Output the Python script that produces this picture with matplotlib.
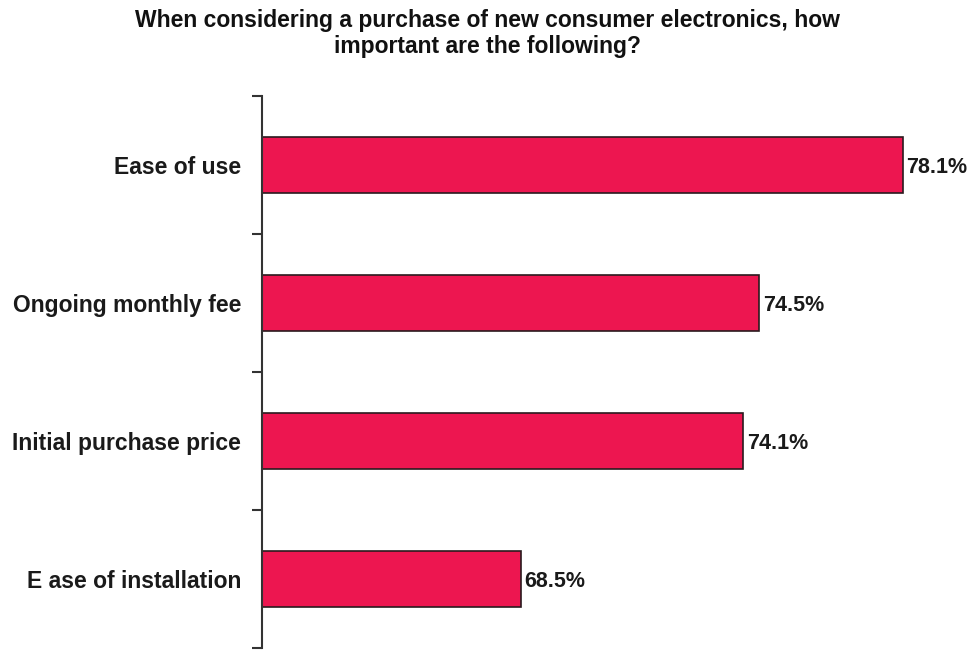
import matplotlib
matplotlib.use("Agg")
import matplotlib.pyplot as plt

categories = ["Ease of use", "Ongoing monthly fee", "Initial purchase price", "E ase of installation"]
values = [78.1, 74.5, 74.1, 68.5]
value_labels = ["78.1%", "74.5%", "74.1%", "68.5%"]
title = "When considering a purchase of new consumer electronics, how\nimportant are the following?"

plt.rcParams["font.family"] = ["Liberation Sans", "DejaVu Sans"]
plt.rcParams["font.weight"] = "bold"

fig = plt.figure(figsize=(9.75, 6.53), dpi=100)
ax = fig.add_axes([262 / 975, 5 / 653, 703 / 975, 552 / 653])

base = 62
pos = list(range(len(categories)))
ax.barh(pos, [v - base for v in values], left=base, height=0.4,
        color="#ED1650", edgecolor="#2a1a1e", linewidth=1.2)

for p, v, lab in zip(pos, values, value_labels):
    ax.text(v + 0.1, p + 0.02, lab, va="center", ha="left", fontsize=15.5,
            fontweight="bold", color="#1a1a1a")

ax.set_xlim(base, base + 703 / 39.79)
ax.set_ylim(3.5, -0.5)
ax.set_yticks([-0.5, 0.5, 1.5, 2.5, 3.5])
ax.set_yticklabels([])
ax.set_yticks(pos, minor=True)
ax.set_yticklabels(categories, minor=True, fontsize=16.5, fontweight="bold", color="#1a1a1a")
ax.tick_params(axis="y", which="major", length=7, width=1.5, color="#333333")
ax.tick_params(axis="y", which="minor", length=0, pad=15)
ax.set_xticks([])
for s in ["top", "right", "bottom"]:
    ax.spines[s].set_visible(False)
ax.spines["left"].set_linewidth(1.5)
ax.spines["left"].set_color("#333333")

fig.text(0.5, 0.949, title, ha="center", va="center", fontsize=16.5,
         fontweight="bold", linespacing=1.2, color="#111111")

fig.savefig("out.png", dpi=100)
